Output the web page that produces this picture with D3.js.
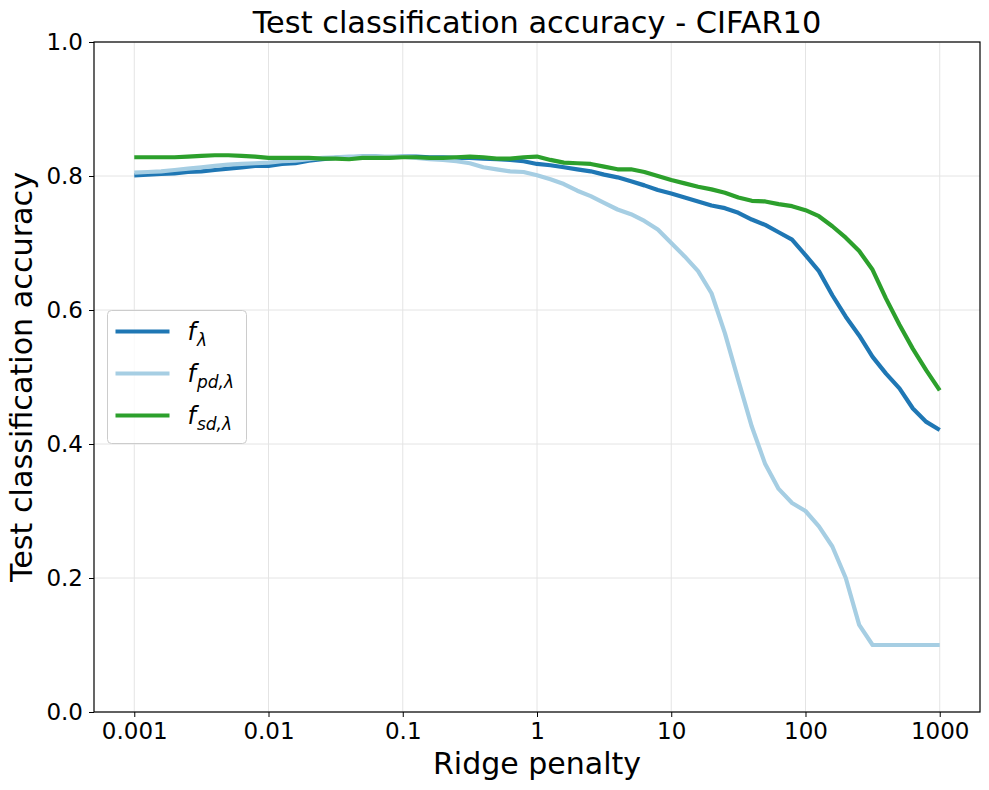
<!DOCTYPE html>
<html>
<head>
<meta charset="utf-8">
<script src="https://cdn.jsdelivr.net/npm/d3@7"></script>
<style>
  body { margin: 0; background: #fff; }
  text { font-family: "DejaVu Sans", sans-serif; fill: #000; }
</style>
</head>
<body>
<script>
// ridge penalties (log spaced, 10 per decade)
var lambdas = [
    0.001, 0.001259, 0.001585, 0.001995, 0.002512, 0.003162, 0.003981, 0.005012, 0.00631, 0.007943,
    0.01, 0.01259, 0.01585, 0.01995, 0.02512, 0.03162, 0.03981, 0.05012, 0.0631, 0.07943,
    0.1, 0.1259, 0.1585, 0.1995, 0.2512, 0.3162, 0.3981, 0.5012, 0.631, 0.7943,
    1, 1.259, 1.585, 1.995, 2.512, 3.162, 3.981, 5.012, 6.31, 7.943,
    10, 12.59, 15.85, 19.95, 25.12, 31.62, 39.81, 50.12, 63.1, 79.43,
    100, 125.9, 158.5, 199.5, 251.2, 316.2, 398.1, 501.2, 631, 794.3,
    1000
];

// f_lambda
var accF = [
    0.801, 0.802, 0.803, 0.804, 0.806, 0.807, 0.809, 0.811, 0.813, 0.815,
    0.815, 0.818, 0.819, 0.823, 0.825, 0.827, 0.828, 0.829, 0.829, 0.828,
    0.829, 0.829, 0.828, 0.828, 0.827, 0.827, 0.826, 0.825, 0.824, 0.822,
    0.818, 0.816, 0.813, 0.810, 0.807, 0.802, 0.798, 0.792, 0.786, 0.779,
    0.774, 0.768, 0.762, 0.756, 0.752, 0.745, 0.735, 0.727, 0.716, 0.705,
    0.682, 0.658, 0.622, 0.590, 0.562, 0.530, 0.505, 0.483, 0.453, 0.433,
    0.421
];

// f_pd,lambda
var accPd = [
    0.805, 0.806, 0.807, 0.809, 0.811, 0.813, 0.815, 0.817, 0.818, 0.819,
    0.820, 0.822, 0.823, 0.825, 0.827, 0.828, 0.829, 0.829, 0.829, 0.829,
    0.829, 0.827, 0.825, 0.824, 0.822, 0.819, 0.813, 0.810, 0.807, 0.806,
    0.801, 0.795, 0.788, 0.778, 0.770, 0.760, 0.750, 0.743, 0.733, 0.720,
    0.700, 0.680, 0.658, 0.625, 0.565, 0.495, 0.426, 0.370, 0.333, 0.312,
    0.300, 0.277, 0.247, 0.200, 0.130, 0.100, 0.100, 0.100, 0.100, 0.100,
    0.100
];

// f_sd,lambda
var accSd = [
    0.828, 0.828, 0.828, 0.828, 0.829, 0.830, 0.831, 0.831, 0.830, 0.829,
    0.827, 0.827, 0.827, 0.827, 0.826, 0.826, 0.825, 0.827, 0.827, 0.827,
    0.828, 0.828, 0.827, 0.827, 0.828, 0.829, 0.828, 0.826, 0.826, 0.828,
    0.829, 0.824, 0.820, 0.819, 0.818, 0.814, 0.810, 0.810, 0.806, 0.800,
    0.794, 0.789, 0.784, 0.780, 0.775, 0.768, 0.763, 0.762, 0.758, 0.755,
    0.749, 0.740, 0.725, 0.708, 0.688, 0.660, 0.617, 0.578, 0.542, 0.510,
    0.480
];

var xTicks = [0.001, 0.01, 0.1, 1, 10, 100, 1000];
var xTickLabels = ["0.001", "0.01", "0.1", "1", "10", "100", "1000"];
var yTicks = [0, 0.2, 0.4, 0.6, 0.8, 1.0];

var seriesNames = [["f", "λ"], ["f", "pd,λ"], ["f", "sd,λ"]];
var seriesColors = ["#1f77b4", "#a6cee3", "#2ca02c"];
var seriesValues = [accF, accPd, accSd];

//SVG dimensions
var w = 989,
    h = 790;
var margin = {left: 94, right: 9, top: 42, bottom: 78};

var svg = d3.select("body")
    .append("svg")
    .attr("width", w)
    .attr("height", h);

//log scale for the ridge penalty, with the usual 5% padding in log space
var pad = 0.3;
var x = d3.scaleLog()
    .domain([Math.pow(10, -3 - pad), Math.pow(10, 3 + pad)])
    .range([margin.left, w - margin.right]);

var y = d3.scaleLinear()
    .domain([0, 1])
    .range([h - margin.bottom, margin.top]);

//grid
var grid = svg.append("g").attr("class", "grid");
grid.selectAll(".vgrid")
    .data(xTicks)
    .enter()
    .append("line")
    .attr("x1", function(d){ return x(d); })
    .attr("x2", function(d){ return x(d); })
    .attr("y1", y(0))
    .attr("y2", y(1))
    .style("stroke", "#e4e4e4")
    .style("stroke-width", 1);
grid.selectAll(".hgrid")
    .data(yTicks)
    .enter()
    .append("line")
    .attr("x1", margin.left)
    .attr("x2", w - margin.right)
    .attr("y1", function(d){ return y(d); })
    .attr("y2", function(d){ return y(d); })
    .style("stroke", "#e4e4e4")
    .style("stroke-width", 1);

//lines
var line = d3.line()
    .x(function(d, i){ return x(lambdas[i]); })
    .y(function(d){ return y(d); });

svg.selectAll(".series")
    .data(seriesValues)
    .enter()
    .append("path")
    .attr("class", "series")
    .attr("d", function(d){ return line(d); })
    .style("fill", "none")
    .style("stroke", function(d, i){ return seriesColors[i]; })
    .style("stroke-width", 4.2)
    .style("stroke-linejoin", "round")
    .style("stroke-linecap", "butt");

//axes
var xAxis = d3.axisBottom(x)
    .tickValues(xTicks)
    .tickFormat(function(d, i){ return xTickLabels[i]; })
    .tickSize(5)
    .tickPadding(6);
var yAxis = d3.axisLeft(y)
    .tickValues(yTicks)
    .tickFormat(d3.format(".1f"))
    .tickSize(5)
    .tickPadding(6);

var gx = svg.append("g")
    .attr("transform", "translate(0," + y(0) + ")")
    .call(xAxis);
var gy = svg.append("g")
    .attr("transform", "translate(" + margin.left + ",0)")
    .call(yAxis);
[gx, gy].forEach(function(g){
    g.select(".domain").remove();
    g.selectAll("text").style("font-size", "23px").style("font-family", "DejaVu Sans");
    g.selectAll("line").style("stroke", "#000");
});

//frame
svg.append("rect")
    .attr("x", margin.left)
    .attr("y", margin.top)
    .attr("width", w - margin.right - margin.left)
    .attr("height", y(0) - margin.top)
    .style("fill", "none")
    .style("stroke", "#000")
    .style("stroke-width", 1.2);

//title and axis labels
svg.append("text")
    .attr("x", (margin.left + w - margin.right) / 2)
    .attr("y", 33)
    .attr("text-anchor", "middle")
    .style("font-size", "30.4px")
    .text("Test classification accuracy - CIFAR10");

svg.append("text")
    .attr("x", (margin.left + w - margin.right) / 2)
    .attr("y", 774)
    .attr("text-anchor", "middle")
    .style("font-size", "30px")
    .text("Ridge penalty");

svg.append("text")
    .attr("transform", "translate(32," + (y(0) + margin.top) / 2 + ") rotate(-90)")
    .attr("text-anchor", "middle")
    .style("font-size", "30.2px")
    .text("Test classification accuracy");

//legend
var legend = svg.append("g")
    .attr("transform", "translate(107.5,310.5)");
legend.append("rect")
    .attr("width", 139)
    .attr("height", 133)
    .attr("rx", 4)
    .style("fill", "rgba(255,255,255,0.8)")
    .style("stroke", "#cccccc")
    .style("stroke-width", 1);

var items = legend.selectAll(".item")
    .data(seriesNames)
    .enter()
    .append("g")
    .attr("class", "item")
    .attr("transform", function(d, i){ return "translate(0," + (21 + i * 42) + ")"; });
items.append("line")
    .attr("x1", 8)
    .attr("x2", 62)
    .style("stroke", function(d, i){ return seriesColors[i]; })
    .style("stroke-width", 4.2);
var labels = items.append("text")
    .attr("x", 80)
    .attr("y", 8)
    .style("font-size", "24px")
    .style("font-style", "italic");
labels.append("tspan")
    .text(function(d){ return d[0]; });
labels.append("tspan")
    .attr("dy", 6)
    .attr("dx", 1)
    .style("font-size", "17px")
    .text(function(d){ return d[1]; });
</script>
</body>
</html>
